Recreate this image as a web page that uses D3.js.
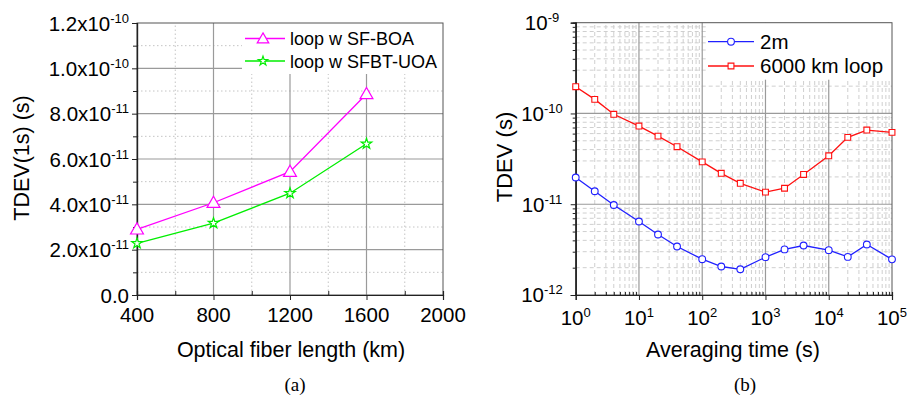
<!DOCTYPE html>
<html><head><meta charset="utf-8">
<script src="https://cdn.jsdelivr.net/npm/d3@7"></script>
<style>
body{margin:0;background:#fff}
svg{display:block}
text{font-family:"Liberation Sans",Arial,Helvetica,sans-serif;fill:#000}
</style>
</head><body>
<svg id="c" width="907" height="399"></svg>
<script>
// ---------- Data: panel (a) ----------
const fiberLength = [400, 800, 1200, 1600];
const sfBoa = [2.9e-11, 4.07e-11, 5.44e-11, 8.87e-11];
const sfbtUoa = [2.28e-11, 3.17e-11, 4.49e-11, 6.67e-11];
const leftSeriesNames = ["loop w SF-BOA", "loop w SFBT-UOA"];
const leftXTicks = [400, 800, 1200, 1600, 2000];
const leftXMinor = [600, 1000, 1400, 1800];
const leftYTicks = [0, 2e-11, 4e-11, 6e-11, 8e-11, 1e-10, 1.2e-10];
const leftYTickBase = ["0.0", "2.0x10", "4.0x10", "6.0x10", "8.0x10", "1.0x10", "1.2x10"];
const leftYTickExp = ["", "-11", "-11", "-11", "-11", "-10", "-10"];
const leftYMinor = [1e-11, 3e-11, 5e-11, 7e-11, 9e-11, 1.1e-10];

// ---------- Data: panel (b) ----------
const tau = [1, 2, 4, 10, 20, 40, 100, 200, 400, 1000, 2000, 4000, 10000, 20000, 40000, 100000];
const tdev2m = [1.97e-11, 1.39e-11, 9.8e-12, 6.45e-12, 4.64e-12, 3.42e-12, 2.48e-12, 2.06e-12, 1.92e-12,
                2.61e-12, 3.18e-12, 3.51e-12, 3.12e-12, 2.63e-12, 3.6e-12, 2.47e-12];
const tdev6000 = [1.97e-10, 1.43e-10, 9.8e-11, 7.26e-11, 5.63e-11, 4.3e-11, 2.93e-11, 2.19e-11, 1.7e-11,
                  1.36e-11, 1.5e-11, 2.13e-11, 3.42e-11, 5.45e-11, 6.56e-11, 6.19e-11];
const rightSeriesNames = ["2m", "6000 km loop"];
const rightXTicks = [1, 10, 100, 1000, 10000, 100000];
const rightXTickExp = ["0", "1", "2", "3", "4", "5"];
const rightYTicks = [1e-12, 1e-11, 1e-10, 1e-9];
const rightYTickExp = ["-12", "-11", "-10", "-9"];

const svg = d3.select("#c");

function supText(g, x, y, base, exp, anchor, size, supSize) {
  const t = g.append("text").attr("x", x).attr("y", y).attr("text-anchor", anchor)
    .attr("font-size", size);
  t.append("tspan").text(base);
  if (exp) t.append("tspan").attr("dy", -8).attr("font-size", supSize).text(exp);
  return t;
}

function logMinor(lo, hi) {
  const out = [];
  for (let d = lo; d < hi; d *= 10) for (let k = 2; k <= 9; k++) out.push(d * k);
  return out;
}

// ================= Panel (a) =================
{
  const x = d3.scaleLinear().domain([400, 2000]).range([137, 443]);
  const y = d3.scaleLinear().domain([0, 1.2e-10]).range([295, 23]);
  const g = svg.append("g");

  g.selectAll(".mgx").data(leftXMinor).join("line")
    .attr("x1", d => x(d)).attr("x2", d => x(d)).attr("y1", y(0)).attr("y2", y(1.2e-10))
    .attr("stroke", "#c4c4c4").attr("stroke-dasharray", "1.5,2.5");
  g.selectAll(".mgy").data(leftYMinor).join("line")
    .attr("y1", d => y(d)).attr("y2", d => y(d)).attr("x1", x(400)).attr("x2", x(2000))
    .attr("stroke", "#c4c4c4").attr("stroke-dasharray", "1.5,2.5");
  g.selectAll(".Mgx").data(leftXTicks.slice(1, -1)).join("line")
    .attr("x1", d => x(d)).attr("x2", d => x(d)).attr("y1", y(0)).attr("y2", y(1.2e-10))
    .attr("stroke", "#9a9a9a").attr("stroke-width", 1.2);
  g.selectAll(".Mgy").data(leftYTicks.slice(1, -1)).join("line")
    .attr("y1", d => y(d)).attr("y2", d => y(d)).attr("x1", x(400)).attr("x2", x(2000))
    .attr("stroke", "#9a9a9a").attr("stroke-width", 1.2);

  g.append("rect").attr("x", 242).attr("y", y(1.2e-10)).attr("width", x(2000) - 242).attr("height", 51)
    .attr("fill", "#fff");

  g.append("rect").attr("x", x(400)).attr("y", y(1.2e-10)).attr("width", x(2000) - x(400))
    .attr("height", y(0) - y(1.2e-10)).attr("fill", "none").attr("stroke", "#555");

  g.append("g").attr("transform", `translate(0,${y(0)})`)
    .call(d3.axisBottom(x).tickValues(leftXTicks).tickSize(5).tickFormat(""));
  g.append("g").attr("transform", `translate(0,${y(0)})`)
    .call(d3.axisBottom(x).tickValues(leftXMinor).tickSize(-4).tickFormat(""));
  g.append("g").attr("transform", `translate(${x(400)},0)`)
    .call(d3.axisLeft(y).tickValues(leftYTicks).tickSize(5).tickFormat(""));
  g.append("g").attr("transform", `translate(${x(400)},0)`)
    .call(d3.axisLeft(y).tickValues(leftYMinor).tickSize(4).tickFormat(""));
  g.selectAll(".domain").attr("stroke", "#222").attr("stroke-width", 1.2);
  g.selectAll(".tick line").attr("stroke", "#222");

  leftXTicks.forEach(v => supText(g, x(v), 322, String(v), "", "middle", 20.5, 13));
  leftYTicks.forEach((v, i) => supText(g, 129, y(v) + 7.5, leftYTickBase[i], leftYTickExp[i], "end", 20.5, 13));

  g.append("text").attr("x", 291).attr("y", 357).attr("text-anchor", "middle").attr("font-size", 21.5)
    .text("Optical fiber length (km)");
  g.append("text").attr("transform", "translate(28.5,158) rotate(-90)").attr("text-anchor", "middle")
    .attr("font-size", 21.5).text("TDEV(1s) (s)");

  const colors = ["#ff00ff", "#00ee00"];
  const syms = [d3.symbolTriangle, d3.symbolStar];
  const sizes = [72, 34];
  [sfBoa, sfbtUoa].forEach((vals, si) => {
    const line = d3.line().x((d, i) => x(fiberLength[i])).y(d => y(d));
    g.append("path").datum(vals).attr("d", line).attr("fill", "none")
      .attr("stroke", colors[si]).attr("stroke-width", 1.3);
    g.selectAll(null).data(vals).join("path")
      .attr("transform", (d, i) => `translate(${x(fiberLength[i])},${y(d) + (si === 0 ? 1 : 0)})`)
      .attr("d", d3.symbol().type(syms[si]).size(sizes[si])).attr("fill", "#fff")
      .attr("stroke", colors[si]).attr("stroke-width", 1.2);
  });

  const rows = [38.5, 61];
  leftSeriesNames.forEach((name, si) => {
    g.append("line").attr("x1", 245).attr("x2", 285).attr("y1", rows[si]).attr("y2", rows[si])
      .attr("stroke", colors[si]).attr("stroke-width", 1.3);
    g.append("path").attr("transform", `translate(263,${rows[si] + (si === 0 ? 1 : 0)})`)
      .attr("d", d3.symbol().type(syms[si]).size(sizes[si] * 0.8)).attr("fill", "#fff")
      .attr("stroke", colors[si]).attr("stroke-width", 1.2);
    g.append("text").attr("x", 290).attr("y", rows[si] + 6.5).attr("font-size", 18).text(name);
  });

  svg.append("text").attr("x", 295).attr("y", 391).attr("text-anchor", "middle")
    .attr("font-size", 19).style("font-family", "'Liberation Serif','Times New Roman',serif").text("(a)");
}

// ================= Panel (b) =================
{
  const x = d3.scaleLog().domain([1, 1e5]).range([575.7, 892]);
  const y = d3.scaleLog().domain([1e-12, 1e-9]).range([295, 22.7]);
  const g = svg.append("g");
  const xMinor = logMinor(1, 1e5), yMinor = logMinor(1e-12, 1e-9);

  g.selectAll(".mgx").data(xMinor).join("line")
    .attr("x1", d => x(d)).attr("x2", d => x(d)).attr("y1", y(1e-12)).attr("y2", y(1e-9))
    .attr("stroke", "#cfcfcf").attr("stroke-dasharray", "4,3");
  g.selectAll(".mgy").data(yMinor).join("line")
    .attr("y1", d => y(d)).attr("y2", d => y(d)).attr("x1", x(1)).attr("x2", x(1e5))
    .attr("stroke", "#cfcfcf").attr("stroke-dasharray", "4,3");
  g.selectAll(".Mgx").data(rightXTicks.slice(1, -1)).join("line")
    .attr("x1", d => x(d)).attr("x2", d => x(d)).attr("y1", y(1e-12)).attr("y2", y(1e-9))
    .attr("stroke", "#9a9a9a").attr("stroke-width", 1.2);
  g.selectAll(".Mgy").data(rightYTicks.slice(1, -1)).join("line")
    .attr("y1", d => y(d)).attr("y2", d => y(d)).attr("x1", x(1)).attr("x2", x(1e5))
    .attr("stroke", "#9a9a9a").attr("stroke-width", 1.2);

  g.append("rect").attr("x", 706).attr("y", y(1e-9)).attr("width", x(1e5) - 706).attr("height", 57)
    .attr("fill", "#fff");

  g.append("rect").attr("x", x(1)).attr("y", y(1e-9)).attr("width", x(1e5) - x(1))
    .attr("height", y(1e-12) - y(1e-9)).attr("fill", "none").attr("stroke", "#555");

  g.append("g").attr("transform", `translate(0,${y(1e-12)})`)
    .call(d3.axisBottom(x).tickValues(rightXTicks).tickSize(5).tickFormat(""));
  g.append("g").attr("transform", `translate(0,${y(1e-12)})`)
    .call(d3.axisBottom(x).tickValues(xMinor).tickSize(-3).tickFormat(""));
  g.append("g").attr("transform", `translate(${x(1)},0)`)
    .call(d3.axisLeft(y).tickValues(rightYTicks).tickSize(5).tickFormat(""));
  g.append("g").attr("transform", `translate(${x(1)},0)`)
    .call(d3.axisLeft(y).tickValues(yMinor).tickSize(3).tickFormat(""));
  g.selectAll(".domain").attr("stroke", "#222").attr("stroke-width", 1.2);
  g.selectAll(".tick line").attr("stroke", "#222");

  rightXTicks.forEach((v, i) => supText(g, x(v), 325, "10", rightXTickExp[i], "middle", 20.5, 13));
  rightYTicks.forEach((v, i) => supText(g, 542, y(v) + 7.3, "10", rightYTickExp[i], "middle", 20.5, 13));

  g.append("text").attr("x", 733).attr("y", 357).attr("text-anchor", "middle").attr("font-size", 21.5)
    .text("Averaging time (s)");
  g.append("text").attr("transform", "translate(511.5,157) rotate(-90)").attr("text-anchor", "middle")
    .attr("font-size", 22).text("TDEV (s)");

  const colors = ["#2020ff", "#ff1010"];
  const syms = [d3.symbolCircle, d3.symbolSquare];
  const sizes = [36, 34];
  [tdev2m, tdev6000].forEach((vals, si) => {
    const line = d3.line().x((d, i) => x(tau[i])).y(d => y(d));
    g.append("path").datum(vals).attr("d", line).attr("fill", "none")
      .attr("stroke", colors[si]).attr("stroke-width", 1.3);
    g.selectAll(null).data(vals).join("path")
      .attr("transform", (d, i) => `translate(${x(tau[i])},${y(d)})`)
      .attr("d", d3.symbol().type(syms[si]).size(sizes[si])).attr("fill", "#fff")
      .attr("stroke", colors[si]).attr("stroke-width", 1.1);
  });

  const rows = [41.7, 66];
  rightSeriesNames.forEach((name, si) => {
    g.append("line").attr("x1", 708).attr("x2", 754).attr("y1", rows[si]).attr("y2", rows[si])
      .attr("stroke", colors[si]).attr("stroke-width", 1.3);
    g.append("path").attr("transform", `translate(731,${rows[si]})`)
      .attr("d", d3.symbol().type(syms[si]).size(sizes[si])).attr("fill", "#fff")
      .attr("stroke", colors[si]).attr("stroke-width", 1.1);
    g.append("text").attr("x", 760).attr("y", rows[si] + 7).attr("font-size", 20.5).text(name);
  });

  svg.append("text").attr("x", 745).attr("y", 391).attr("text-anchor", "middle")
    .attr("font-size", 19).style("font-family", "'Liberation Serif','Times New Roman',serif").text("(b)");
}
</script>
</body></html>
